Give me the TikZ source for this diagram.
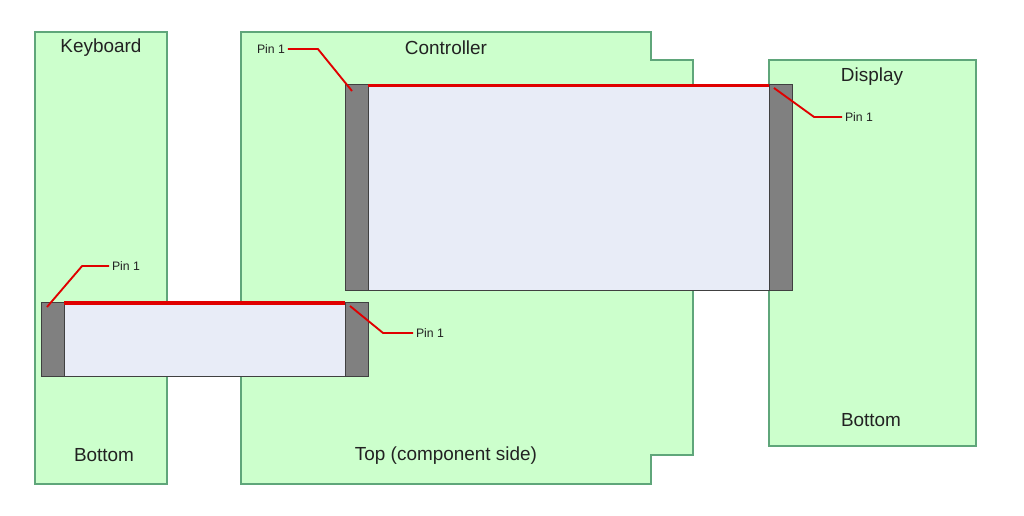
\documentclass[tikz,border=0pt]{standalone}
\usepackage{fontspec}
\setmainfont{Liberation Sans}
\usepackage{xcolor}
\usetikzlibrary{positioning,calc}

\definecolor{boardfill}{HTML}{CCFFCC}
\definecolor{boardline}{HTML}{5FA67A}
\definecolor{cablefill}{HTML}{E8ECF7}
\definecolor{plugfill}{HTML}{808080}
\definecolor{pinred}{HTML}{E00000}
\definecolor{labeltext}{HTML}{222222}

\begin{document}
\begin{tikzpicture}[x=0.75pt,y=-0.75pt,
  board/.style={draw=boardline,fill=boardfill,line width=1.5pt},
  cable/.style={draw=black!75,fill=cablefill,line width=0.75pt},
  plug/.style={draw=black!75,fill=plugfill,line width=0.75pt},
  stripe/.style={draw=pinred,line width=2.8pt},
  leader/.style={draw=pinred,line width=1.4pt},
  boardlabel/.style={text=labeltext,font=\fontsize{14.2}{16}\selectfont,inner sep=0pt},
  pinlabel/.style={text=labeltext,font=\fontsize{9.2}{11}\selectfont,inner sep=2pt}]
\path[use as bounding box] (0,0) rectangle (1024,515);

% boards
\draw[board] (35,32) rectangle (167,484);
\draw[board] (241,32) -- (651,32) -- (651,60) -- (693,60) -- (693,455) -- (651,455) -- (651,484) -- (241,484) -- cycle;
\draw[board] (769,60) rectangle (976,446);

\node[boardlabel] (kb) at (101,48) {Keyboard};
\node[boardlabel] (kbside) at (104,455) {Bottom};
\node[boardlabel] (ctrl) at (446,48) {Controller};
\node[boardlabel] (ctrlside) at (446,456) {Top (component side)};
\node[boardlabel] (disp) at (872,77) {Display};
\node[boardlabel] (dispside) at (871,420) {Bottom};

% display cable
\draw[cable] (345,84) rectangle (792,290);
\draw[plug] (345,84) rectangle (368,290);
\draw[plug] (769,84) rectangle (792,290);
\draw[stripe] (368,85.5) -- (769,85.5);

% keyboard cable
\draw[cable] (41,302) rectangle (368,376);
\draw[plug] (41,302) rectangle (64,376);
\draw[plug] (345,302) rectangle (368,376);
\draw[stripe] (64,303) -- (345,303);

% pin 1 markers
\coordinate (ctrlpin) at (352,91);
\coordinate (disppin) at (774,88);
\coordinate (kbpin) at (47,307);
\coordinate (ctrlpinb) at (350,306);

\node[pinlabel] (p1) at (271,49) {Pin 1};
\node[pinlabel] (p2) at (859,117) {Pin 1};
\node[pinlabel] (p3) at (126,266) {Pin 1};
\node[pinlabel] (p4) at (430,333) {Pin 1};

\draw[leader] (p1.east) -- ++(30,0) -- (ctrlpin);
\draw[leader] (p2.west) -- ++(-28,0) -- (disppin);
\draw[leader] (p3.west) -- ++(-27,0) -- (kbpin);
\draw[leader] (p4.west) -- ++(-30,0) -- (ctrlpinb);
\end{tikzpicture}
\end{document}
